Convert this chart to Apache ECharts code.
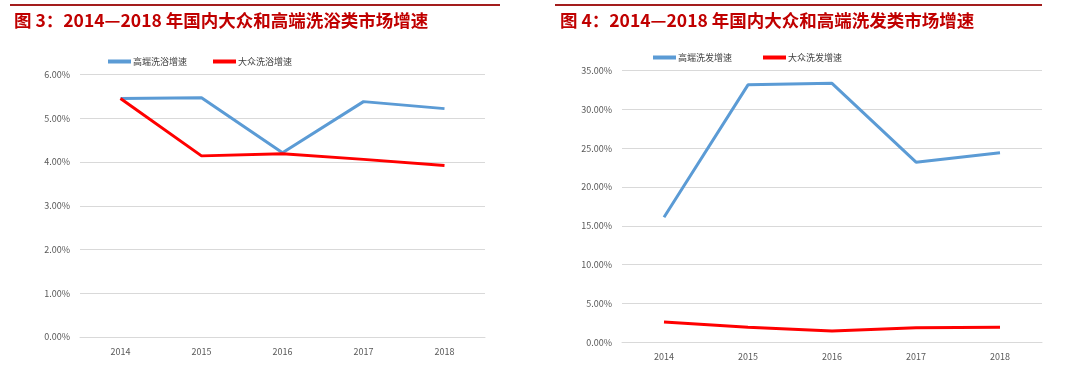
<!DOCTYPE html>
<html><head><meta charset="utf-8">
<script src="https://cdn.jsdelivr.net/npm/echarts@6/dist/echarts.min.js"></script>
<style>html,body{margin:0;padding:0;background:#fff}#c{width:1080px;height:372px}</style>
</head><body><div id="c"></div>
<script>
const years = ['2014','2015','2016','2017','2018'];
const bathHigh = [5.45, 5.47, 4.21, 5.38, 5.22];
const bathMass = [5.45, 4.14, 4.19, 4.06, 3.92];
const hairHigh = [16.1, 33.15, 33.35, 23.2, 24.4];
const hairMass = [2.62, 1.93, 1.46, 1.88, 1.93];
const title1 = '图 3：2014—2018 年国内大众和高端洗浴类市场增速';
const title2 = '图 4：2014—2018 年国内大众和高端洗发类市场增速';
const legend1 = ['高端洗浴增速', '大众洗浴增速'];
const legend2 = ['高端洗发增速', '大众洗发增速'];

const FONT = '"Noto Sans CJK SC", "Noto Sans", sans-serif';
const BLUE = '#5b9bd5', RED = '#ff0000', TITLE = '#c00000';
const chart = echarts.init(document.getElementById('c'));
const pct = v => v.toFixed(2) + '%';
function yAxis(gi, max, interval) {
  return {type:'value', gridIndex:gi, min:0, max:max, interval:interval,
    axisLine:{show:false}, axisTick:{show:false},
    axisLabel:{formatter:pct, color:'#595959', fontSize:9, fontFamily:FONT, margin:10},
    splitLine:{lineStyle:{color:'#d9d9d9', width:1}}};
}
function xAxis(gi, margin) {
  return {type:'category', gridIndex:gi, data:years, boundaryGap:true,
    axisLine:{lineStyle:{color:'#d9d9d9'}}, axisTick:{show:false},
    axisLabel:{color:'#595959', fontSize:9, fontFamily:FONT, margin:margin}};
}
function line(name, gi, data, color) {
  return {name, type:'line', xAxisIndex:gi, yAxisIndex:gi, data, symbol:'none',
    lineStyle:{color, width:3}, itemStyle:{color}};
}
chart.setOption({
  animation:false,
  title:[
    {text:title1, left:14, top:12, padding:0, textStyle:{color:TITLE, fontSize:17.5, fontWeight:'bold', fontFamily:FONT}},
    {text:title2, left:560, top:12, padding:0, textStyle:{color:TITLE, fontSize:17.5, fontWeight:'bold', fontFamily:FONT}}
  ],
  graphic:[
    {type:'line', shape:{x1:10, y1:5, x2:500, y2:5}, style:{stroke:'#a31d1d', lineWidth:2}},
    {type:'line', shape:{x1:555, y1:5, x2:1042, y2:5}, style:{stroke:'#a31d1d', lineWidth:2}}
  ],
  legend:[
    {data:legend1, left:103, top:52, itemWidth:23, itemHeight:4, itemGap:26, icon:'rect',
      textStyle:{fontSize:9, color:'#404040', fontFamily:FONT, padding:[0,0,0,-3]}},
    {data:legend2, left:648, top:48, itemWidth:23, itemHeight:4, itemGap:31, icon:'rect',
      textStyle:{fontSize:9, color:'#404040', fontFamily:FONT, padding:[0,0,0,-3]}}
  ],
  grid:[
    {left:80, top:74.5, width:405, height:262.5},
    {left:622, top:70.5, width:420, height:271.8}
  ],
  xAxis:[xAxis(0, 10), xAxis(1, 10)],
  yAxis:[yAxis(0, 6, 1), yAxis(1, 35, 5)],
  series:[
    line(legend1[0], 0, bathHigh, BLUE),
    line(legend1[1], 0, bathMass, RED),
    line(legend2[0], 1, hairHigh, BLUE),
    line(legend2[1], 1, hairMass, RED)
  ]
});
</script></body></html>
